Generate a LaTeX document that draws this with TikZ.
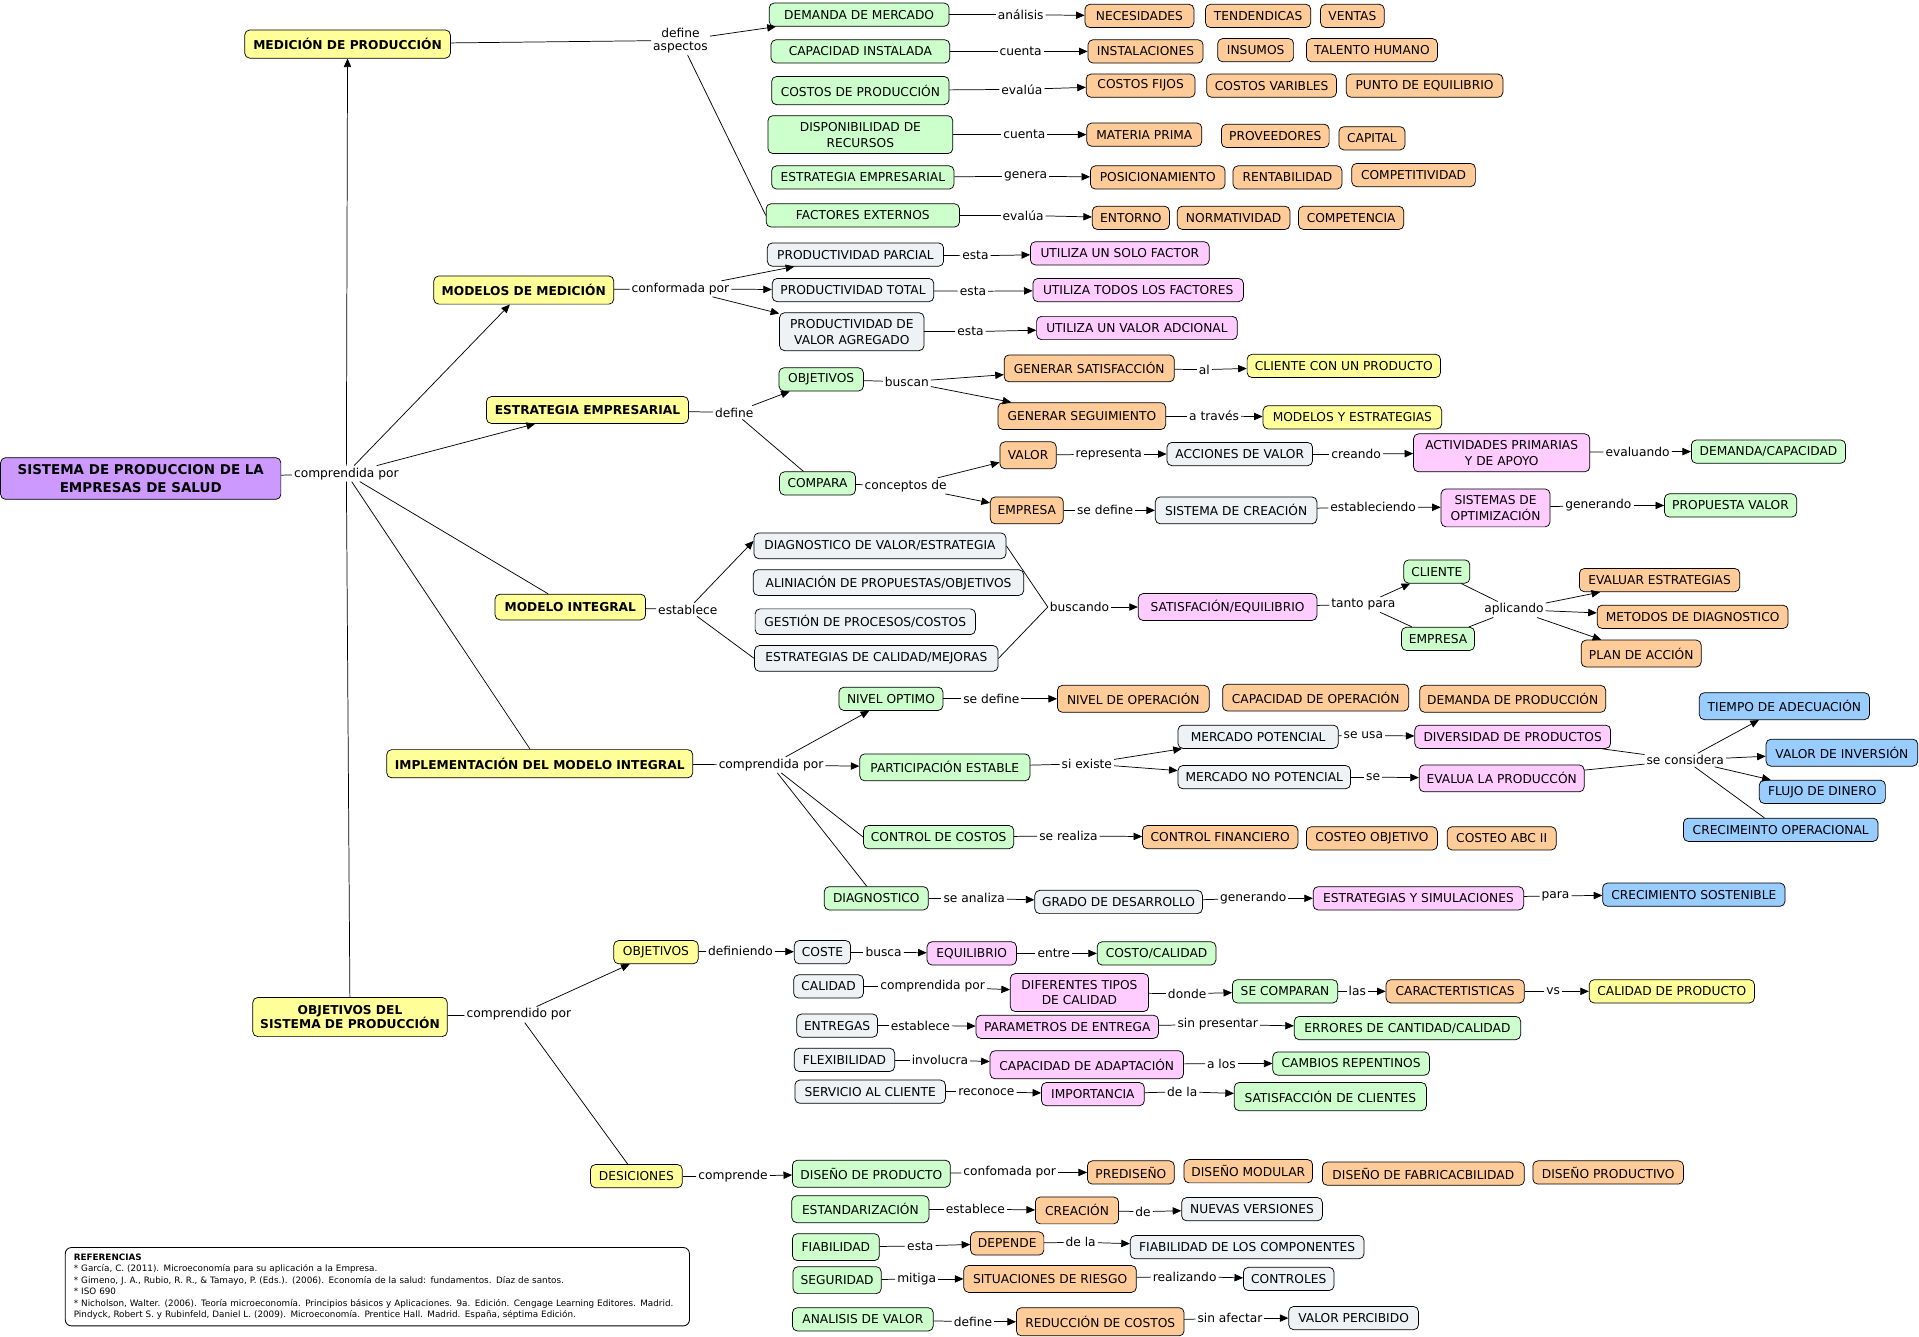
\documentclass[tikz,border=0pt]{standalone}
\usepackage{fontspec}
\setmainfont{DejaVu Sans}
\usepackage{tikz}
\usetikzlibrary{arrows.meta}
\definecolor{conceptyellow}{RGB}{255,255,153}
\definecolor{conceptgreen}{RGB}{204,255,204}
\definecolor{conceptorange}{RGB}{255,204,153}
\definecolor{conceptpink}{RGB}{255,204,255}
\definecolor{conceptgray}{RGB}{238,242,245}
\definecolor{conceptblue}{RGB}{153,204,255}
\definecolor{conceptpurple}{RGB}{204,153,255}
\tikzset{
  baseblock/.style={
    rectangle, rounded corners=4pt, draw=black, line width=0.6pt,
    inner xsep=6pt, inner ysep=3pt, minimum height=19pt,
    align=center, font=\fontsize{10}{13}\selectfont
  },
  yellowblock/.style={baseblock, fill=conceptyellow},
  greenblock/.style={baseblock, fill=conceptgreen},
  orangeblock/.style={baseblock, fill=conceptorange},
  pinkblock/.style={baseblock, fill=conceptpink},
  grayblock/.style={baseblock, fill=conceptgray},
  blueblock/.style={baseblock, fill=conceptblue},
  titleblock/.style={baseblock, fill=conceptyellow, minimum height=23pt, font=\fontsize{10}{12}\selectfont\bfseries},
  mainblock/.style={baseblock, fill=conceptpurple, minimum height=34pt, font=\fontsize{11}{14}\selectfont\bfseries},
  refblock/.style={
    rectangle, rounded corners=5pt, draw=black, line width=0.7pt,
    inner xsep=7pt, inner ysep=4pt, align=left, font=\fontsize{7.2}{9.4}\selectfont
  },
  linkword/.style={inner sep=1.5pt, align=center, font=\fontsize{10}{11}\selectfont},
  flowline/.style={draw=black, line width=0.6pt, -{Triangle[length=7pt, width=6pt]}},
  plainline/.style={draw=black, line width=0.6pt}
}
\begin{document}
\begin{tikzpicture}[x=1pt, y=-1pt]
  \path[use as bounding box, fill=white] (0,0) rectangle (1568,1092);

  \node[mainblock, minimum width=229pt] (sis) at (115,391) {SISTEMA DE PRODUCCION DE LA\\EMPRESAS DE SALUD};
  \node[linkword] (lcom1) at (283,387) {comprendida por};

  \node[titleblock, minimum width=168pt] (med) at (284,36) {MEDICIÓN DE PRODUCCIÓN};
  \node[linkword] (lasp) at (556,33) {define\\aspectos};
  \node[greenblock, minimum width=147pt] (dem) at (702,12) {DEMANDA DE MERCADO};
  \node[linkword] (lana) at (834,12) {análisis};
  \node[orangeblock, minimum width=89pt] (nec) at (931,13) {NECESIDADES};
  \node[orangeblock, minimum width=86pt] (ten) at (1028,13) {TENDENDICAS};
  \node[orangeblock, minimum width=52pt] (ven) at (1105,13) {VENTAS};
  \node[greenblock, minimum width=146pt] (cap) at (703,42) {CAPACIDAD INSTALADA};
  \node[linkword] (lcue1) at (834,42) {cuenta};
  \node[orangeblock, minimum width=94pt] (ins) at (936,42) {INSTALACIONES};
  \node[orangeblock, minimum width=62pt] (insu) at (1026,41) {INSUMOS};
  \node[orangeblock, minimum width=107pt] (tal) at (1121,41) {TALENTO HUMANO};
  \node[greenblock, minimum width=145pt, minimum height=23pt] (cos) at (703,74) {COSTOS DE PRODUCCIÓN};
  \node[linkword] (leva1) at (835,73) {evalúa};
  \node[orangeblock, minimum width=89pt] (cfi) at (932,70) {COSTOS FIJOS};
  \node[orangeblock, minimum width=106pt] (cva) at (1039,70) {COSTOS VARIBLES};
  \node[orangeblock, minimum width=128pt] (peq) at (1164,70) {PUNTO DE EQUILIBRIO};
  \node[greenblock, minimum width=151pt, minimum height=31pt] (dis) at (703,110) {DISPONIBILIDAD DE\\RECURSOS};
  \node[linkword] (lcue2) at (837,110) {cuenta};
  \node[orangeblock, minimum width=94pt] (mat) at (935,110) {MATERIA PRIMA};
  \node[orangeblock, minimum width=88pt] (pro) at (1042,111) {PROVEEDORES};
  \node[orangeblock, minimum width=54pt] (capi) at (1121,113) {CAPITAL};
  \node[greenblock, minimum width=149pt] (este) at (705,145) {ESTRATEGIA EMPRESARIAL};
  \node[linkword] (lgen1) at (838,144) {genera};
  \node[orangeblock, minimum width=110pt] (pos) at (946,145) {POSICIONAMIENTO};
  \node[orangeblock, minimum width=89pt] (ren) at (1052,145) {RENTABILIDAD};
  \node[orangeblock, minimum width=101pt] (com) at (1155,143) {COMPETITIVIDAD};
  \node[greenblock, minimum width=158pt] (fac) at (705,176) {FACTORES EXTERNOS};
  \node[linkword] (leva2) at (836,176) {evalúa};
  \node[orangeblock, minimum width=63pt] (ent) at (924,178) {ENTORNO};
  \node[orangeblock, minimum width=92pt] (nor) at (1008,178) {NORMATIVIDAD};
  \node[orangeblock, minimum width=86pt] (cpt) at (1104,178) {COMPETENCIA};

  \node[titleblock, minimum width=147pt] (mod) at (428,237) {MODELOS DE MEDICIÓN};
  \node[linkword] (lconf) at (556,236) {conformada por};
  \node[grayblock, minimum width=144pt] (ppar) at (699,208) {PRODUCTIVIDAD PARCIAL};
  \node[linkword] (les1) at (797,209) {esta};
  \node[pinkblock, minimum width=146pt] (usf) at (915,207) {UTILIZA UN SOLO FACTOR};
  \node[grayblock, minimum width=132pt] (ptot) at (697,237) {PRODUCTIVIDAD TOTAL};
  \node[linkword] (les2) at (795,238) {esta};
  \node[pinkblock, minimum width=172pt] (utf) at (930,237) {UTILIZA TODOS LOS FACTORES};
  \node[grayblock, minimum width=118pt, minimum height=31pt] (pva) at (696,271) {PRODUCTIVIDAD DE\\VALOR AGREGADO};
  \node[linkword] (les3) at (793,271) {esta};
  \node[pinkblock, minimum width=164pt] (uva) at (929,268) {UTILIZA UN VALOR ADCIONAL};

  \node[titleblock, minimum width=165pt, minimum height=22pt] (estr) at (480,335) {ESTRATEGIA EMPRESARIAL};
  \node[linkword] (ldef1) at (600,337) {define};
  \node[greenblock, minimum width=69pt] (obj1) at (671,310) {OBJETIVOS};
  \node[linkword] (lbus) at (741,312) {buscan};
  \node[orangeblock, minimum width=139pt, minimum height=22pt] (gsat) at (890,301) {GENERAR SATISFACCIÓN};
  \node[linkword] (lal) at (984,302) {al};
  \node[yellowblock, minimum width=158pt] (ccp) at (1098,299) {CLIENTE CON UN PRODUCTO};
  \node[orangeblock, minimum width=137pt, minimum height=22pt] (gseg) at (884,340) {GENERAR SEGUIMIENTO};
  \node[linkword] (latr) at (992,340) {a través};
  \node[yellowblock, minimum width=146pt] (mye) at (1105,341) {MODELOS Y ESTRATEGIAS};
  \node[greenblock, minimum width=62pt] (cmp) at (668,395) {COMPARA};
  \node[linkword] (lcon) at (740,397) {conceptos de};
  \node[orangeblock, minimum width=46pt, minimum height=22pt] (val) at (840,372) {VALOR};
  \node[linkword] (lrep) at (906,371) {representa};
  \node[grayblock, minimum width=119pt] (acv) at (1013,371) {ACCIONES DE VALOR};
  \node[linkword] (lcre) at (1108,371) {creando};
  \node[pinkblock, minimum width=144pt, minimum height=31pt] (act) at (1227,370) {ACTIVIDADES PRIMARIAS\\Y DE APOYO};
  \node[linkword] (lev) at (1338,369) {evaluando};
  \node[greenblock, minimum width=126pt] (dcap) at (1445,369) {DEMANDA/CAPACIDAD};
  \node[orangeblock, minimum width=58pt, minimum height=22pt] (emp1) at (839,417) {EMPRESA};
  \node[linkword] (lsed1) at (903,417) {se define};
  \node[grayblock, minimum width=132pt, minimum height=22pt] (sdc) at (1010,417) {SISTEMA DE CREACIÓN};
  \node[linkword] (lest1) at (1122,414) {estableciendo};
  \node[pinkblock, minimum width=89pt, minimum height=31pt] (sop) at (1222,415) {SISTEMAS DE\\OPTIMIZACIÓN};
  \node[linkword] (lgen2) at (1306,413) {generando};
  \node[greenblock, minimum width=108pt] (pval) at (1414,413) {PROPUESTA VALOR};

  \node[titleblock, minimum width=123pt, minimum height=21pt] (mint) at (466,496) {MODELO INTEGRAL};
  \node[linkword] (lesb) at (562,498) {establece};
  \node[grayblock, minimum width=206pt, minimum height=21pt] (dvaa) at (719,446) {DIAGNOSTICO DE VALOR/ESTRATEGIA};
  \node[grayblock, minimum width=221pt, minimum height=21pt] (ali) at (726,476) {ALINIACIÓN DE PROPUESTAS/OBJETIVOS};
  \node[grayblock, minimum width=180pt, minimum height=21pt] (gpc) at (707,508) {GESTIÓN DE PROCESOS/COSTOS};
  \node[grayblock, minimum width=199pt, minimum height=21pt] (ecm) at (716,538) {ESTRATEGIAS DE CALIDAD/MEJORAS};
  \node[linkword] (lbusc) at (882,496) {buscando};
  \node[pinkblock, minimum width=146pt, minimum height=22pt] (satq) at (1003,496) {SATISFACIÓN/EQUILIBRIO};
  \node[linkword] (ltan) at (1114,494) {tanto para};
  \node[greenblock, minimum width=54pt] (cli) at (1174,467) {CLIENTE};
  \node[greenblock, minimum width=58pt] (emp2) at (1175,522) {EMPRESA};
  \node[linkword] (lapl) at (1237,498) {aplicando};
  \node[orangeblock, minimum width=131pt] (eve) at (1356,474) {EVALUAR ESTRATEGIAS};
  \node[orangeblock, minimum width=156pt] (mdd) at (1383,504) {METODOS DE DIAGNOSTICO};
  \node[orangeblock, minimum width=98pt, minimum height=22pt] (pla) at (1341,534) {PLAN DE ACCIÓN};

  \node[titleblock, minimum width=250pt] (impl) at (441,624) {IMPLEMENTACIÓN DEL MODELO INTEGRAL};
  \node[linkword] (lcom2) at (630,625) {comprendida por};
  \node[greenblock, minimum width=85pt] (nop) at (728,571) {NIVEL OPTIMO};
  \node[linkword] (lsed2) at (810,571) {se define};
  \node[orangeblock, minimum width=124pt, minimum height=22pt] (nopr) at (926,571) {NIVEL DE OPERACIÓN};
  \node[orangeblock, minimum width=152pt, minimum height=22pt] (cop) at (1075,570) {CAPACIDAD DE OPERACIÓN};
  \node[orangeblock, minimum width=152pt, minimum height=22pt] (dpr) at (1236,571) {DEMANDA DE PRODUCCIÓN};
  \node[greenblock, minimum width=139pt, minimum height=22pt] (pes) at (772,627) {PARTICIPACIÓN ESTABLE};
  \node[linkword] (lsie) at (888,624) {si existe};
  \node[grayblock, minimum width=131pt] (mpo) at (1028,602) {MERCADO POTENCIAL};
  \node[linkword] (lusa) at (1114,601) {se usa};
  \node[pinkblock, minimum width=160pt] (dpd) at (1236,602) {DIVERSIDAD DE PRODUCTOS};
  \node[grayblock, minimum width=141pt] (mnp) at (1033,635) {MERCADO NO POTENCIAL};
  \node[linkword] (lse) at (1122,635) {se};
  \node[pinkblock, minimum width=134pt, minimum height=22pt] (evp) at (1227,636) {EVALUA LA PRODUCCÓN};
  \node[linkword] (lcsd) at (1377,621) {se considera};
  \node[blueblock, minimum width=139pt, minimum height=22pt] (tad) at (1458,577) {TIEMPO DE ADECUACIÓN};
  \node[blueblock, minimum width=124pt, minimum height=22pt] (vdi) at (1505,615) {VALOR DE INVERSIÓN};
  \node[blueblock, minimum width=103pt] (fdd) at (1489,647) {FLUJO DE DINERO};
  \node[blueblock, minimum width=159pt] (crop) at (1455,678) {CRECIMEINTO OPERACIONAL};
  \node[greenblock, minimum width=122pt] (cdc) at (767,684) {CONTROL DE COSTOS};
  \node[linkword] (lsre) at (873,683) {se realiza};
  \node[orangeblock, minimum width=127pt] (cfin) at (997,684) {CONTROL FINANCIERO};
  \node[orangeblock, minimum width=107pt] (cobj) at (1121,685) {COSTEO OBJETIVO};
  \node[orangeblock, minimum width=89pt] (cabc) at (1227,685) {COSTEO ABC II};
  \node[greenblock, minimum width=85pt] (diag) at (716,734) {DIAGNOSTICO};
  \node[linkword] (lsan) at (796,734) {se analiza};
  \node[grayblock, minimum width=136pt] (gdd) at (914,737) {GRADO DE DESARROLLO};
  \node[linkword] (lgen3) at (1024,734) {generando};
  \node[pinkblock, minimum width=172pt] (eys) at (1159,734) {ESTRATEGIAS Y SIMULACIONES};
  \node[linkword] (lpar) at (1271,732) {para};
  \node[blueblock, minimum width=149pt] (csos) at (1384,731) {CRECIMIENTO SOSTENIBLE};

  \node[titleblock, minimum width=158pt, minimum height=32pt] (objs) at (286,831) {OBJETIVOS DEL\\SISTEMA DE PRODUCCIÓN};
  \node[linkword] (lcom3) at (424,829) {comprendido por};
  \node[yellowblock, minimum width=69pt] (obj2) at (536,778) {OBJETIVOS};
  \node[linkword] (ldefi) at (605,777) {definiendo};
  \node[grayblock, minimum width=46pt] (cost) at (672,778) {COSTE};
  \node[linkword] (lbsc) at (722,778) {busca};
  \node[pinkblock, minimum width=73pt] (equ) at (794,779) {EQUILIBRIO};
  \node[linkword] (lent) at (861,779) {entre};
  \node[greenblock, minimum width=97pt] (coca) at (945,779) {COSTO/CALIDAD};
  \node[grayblock, minimum width=57pt] (cal) at (677,806) {CALIDAD};
  \node[linkword] (lcpor) at (762,806) {comprendida por};
  \node[pinkblock, minimum width=113pt, minimum height=31pt] (dtc) at (882,811) {DIFERENTES TIPOS\\DE CALIDAD};
  \node[linkword] (ldon) at (970,812) {donde};
  \node[greenblock, minimum width=86pt] (scp) at (1050,810) {SE COMPARAN};
  \node[linkword] (llas) at (1109,810) {las};
  \node[orangeblock, minimum width=113pt] (car) at (1189,810) {CARACTERTISTICAS};
  \node[linkword] (lvs) at (1269,810) {vs};
  \node[yellowblock, minimum width=135pt] (cdp) at (1366,810) {CALIDAD DE PRODUCTO};
  \node[grayblock, minimum width=66pt] (entg) at (684,838) {ENTREGAS};
  \node[linkword] (lestb) at (752,838) {establece};
  \node[pinkblock, minimum width=149pt] (pde) at (872,839) {PARAMETROS DE ENTREGA};
  \node[linkword] (lsinp) at (995,837) {sin presentar};
  \node[greenblock, minimum width=185pt] (ecc) at (1150,840) {ERRORES DE CANTIDAD/CALIDAD};
  \node[grayblock, minimum width=82pt] (fle) at (690,866) {FLEXIBILIDAD};
  \node[linkword] (linv) at (768,866) {involucra};
  \node[pinkblock, minimum width=158pt, minimum height=23pt] (cda) at (888,870) {CAPACIDAD DE ADAPTACIÓN};
  \node[linkword] (llos) at (998,869) {a los};
  \node[greenblock, minimum width=128pt] (cre) at (1104,869) {CAMBIOS REPENTINOS};
  \node[grayblock, minimum width=123pt] (sac) at (711,892) {SERVICIO AL CLIENTE};
  \node[linkword] (lrec) at (806,892) {reconoce};
  \node[pinkblock, minimum width=84pt] (imp) at (893,894) {IMPORTANCIA};
  \node[linkword] (ldla1) at (966,892) {de la};
  \node[greenblock, minimum width=157pt, minimum height=23pt] (sdcl) at (1087,896) {SATISFACCIÓN DE CLIENTES};

  \node[yellowblock, minimum width=75pt] (des) at (520,961) {DESICIONES};
  \node[linkword] (lcmp) at (599,961) {comprende};
  \node[greenblock, minimum width=129pt, minimum height=22pt] (ddp) at (712,959) {DISEÑO DE PRODUCTO};
  \node[linkword] (lcfp) at (825,958) {confomada por};
  \node[orangeblock, minimum width=71pt] (pred) at (924,958) {PREDISEÑO};
  \node[orangeblock, minimum width=105pt] (dmod) at (1020,957) {DISEÑO MODULAR};
  \node[orangeblock, minimum width=165pt] (dfab) at (1163,959) {DISEÑO DE FABRICACBILIDAD};
  \node[orangeblock, minimum width=123pt] (dprod) at (1314,958) {DISEÑO PRODUCTIVO};
  \node[greenblock, minimum width=112pt, minimum height=22pt] (std) at (703,988) {ESTANDARIZACIÓN};
  \node[linkword] (lestb2) at (797,988) {establece};
  \node[orangeblock, minimum width=68pt, minimum height=22pt] (crea) at (880,989) {CREACIÓN};
  \node[linkword] (lde) at (934,990) {de};
  \node[grayblock, minimum width=115pt] (nver) at (1023,988) {NUEVAS VERSIONES};
  \node[greenblock, minimum width=71pt, minimum height=22pt] (fia) at (683,1019) {FIABILIDAD};
  \node[linkword] (lest4) at (752,1018) {esta};
  \node[orangeblock, minimum width=59pt] (depe) at (823,1016) {DEPENDE};
  \node[linkword] (ldla2) at (883,1015) {de la};
  \node[grayblock, minimum width=191pt] (fdc) at (1019,1019) {FIABILIDAD DE LOS COMPONENTES};
  \node[greenblock, minimum width=72pt, minimum height=22pt] (seg) at (684,1046) {SEGURIDAD};
  \node[linkword] (lmit) at (749,1045) {mitiga};
  \node[orangeblock, minimum width=141pt, minimum height=22pt] (sdr) at (858,1045) {SITUACIONES DE RIESGO};
  \node[linkword] (lrea) at (968,1043) {realizando};
  \node[grayblock, minimum width=74pt] (ctr) at (1053,1045) {CONTROLES};
  \node[greenblock, minimum width=115pt] (adv) at (705,1078) {ANALISIS DE VALOR};
  \node[linkword] (ldef3) at (795,1080) {define};
  \node[orangeblock, minimum width=137pt, minimum height=23pt] (rdc) at (899,1080) {REDUCCIÓN DE COSTOS};
  \node[linkword] (lsaf) at (1005,1077) {sin afectar};
  \node[grayblock, minimum width=106pt] (vpe) at (1106,1077) {VALOR PERCIBIDO};

  \node[refblock, anchor=north west, minimum width=510pt, minimum height=64pt, text width=496pt] (refs) at (53,1019) {\textbf{REFERENCIAS}\\
{*} García, C. (2011). Microeconomía para su aplicación a la Empresa.\\
{*} Gimeno, J. A., Rubio, R. R., \& Tamayo, P. (Eds.). (2006). Economía de la salud: fundamentos. Díaz de santos.\\
{*} ISO 690\\
{*} Nicholson, Walter. (2006). Teoría microeconomía. Principios básicos y Aplicaciones. 9a. Edición. Cengage Learning Editores. Madrid.\\
Pindyck, Robert S. y Rubinfeld, Daniel L. (2009). Microeconomía. Prentice Hall. Madrid. España, séptima Edición.};

  \draw[plainline] (sis) -- (lcom1);
  \draw[flowline] (lcom1) -- (med);
  \draw[flowline] (lcom1) -- (mod);
  \draw[flowline] (lcom1) -- (estr);
  \draw[plainline] (lcom1) -- (mint);
  \draw[plainline] (lcom1) -- (impl);
  \draw[plainline] (lcom1) -- (objs);

  \draw[plainline] (med) -- (lasp);
  \draw[flowline] (lasp) -- (dem);
  \draw[plainline] (lasp) -- (fac.west);
  \draw[plainline] (dem) -- (lana);
  \draw[flowline] (lana) -- (nec);
  \draw[plainline] (cap) -- (lcue1);
  \draw[flowline] (lcue1) -- (ins);
  \draw[plainline] (cos) -- (leva1);
  \draw[flowline] (leva1) -- (cfi);
  \draw[plainline] (dis) -- (lcue2);
  \draw[flowline] (lcue2) -- (mat);
  \draw[plainline] (este) -- (lgen1);
  \draw[flowline] (lgen1) -- (pos);
  \draw[plainline] (fac) -- (leva2);
  \draw[flowline] (leva2) -- (ent);

  \draw[plainline] (mod) -- (lconf);
  \draw[flowline] (lconf) -- (ppar);
  \draw[flowline] (lconf) -- (ptot);
  \draw[flowline] (lconf) -- (pva);
  \draw[plainline] (ppar) -- (les1);
  \draw[flowline] (les1) -- (usf);
  \draw[plainline] (ptot) -- (les2);
  \draw[flowline] (les2) -- (utf);
  \draw[plainline] (pva) -- (les3);
  \draw[flowline] (les3) -- (uva);

  \draw[plainline] (estr) -- (ldef1);
  \draw[flowline] (ldef1) -- (obj1);
  \draw[plainline] (ldef1) -- (cmp);
  \draw[plainline] (obj1) -- (lbus);
  \draw[flowline] (lbus) -- (gsat);
  \draw[flowline] (lbus) -- (gseg);
  \draw[plainline] (gsat) -- (lal);
  \draw[flowline] (lal) -- (ccp);
  \draw[plainline] (gseg) -- (latr);
  \draw[flowline] (latr) -- (mye);
  \draw[plainline] (cmp) -- (lcon);
  \draw[flowline] (lcon) -- (val);
  \draw[flowline] (lcon) -- (emp1);
  \draw[plainline] (val) -- (lrep);
  \draw[flowline] (lrep) -- (acv);
  \draw[plainline] (acv) -- (lcre);
  \draw[flowline] (lcre) -- (act);
  \draw[plainline] (act) -- (lev);
  \draw[flowline] (lev) -- (dcap);
  \draw[plainline] (emp1) -- (lsed1);
  \draw[flowline] (lsed1) -- (sdc);
  \draw[plainline] (sdc) -- (lest1);
  \draw[flowline] (lest1) -- (sop);
  \draw[plainline] (sop) -- (lgen2);
  \draw[flowline] (lgen2) -- (pval);

  \draw[plainline] (mint) -- (lesb);
  \draw[flowline] (lesb) -- ([yshift=4pt]dvaa.west);
  \draw[plainline] (lesb) -- (ecm.west);
  \draw[plainline] (dvaa.east) -- (lbusc.west);
  \draw[plainline] (ecm.east) -- (lbusc.west);
  \draw[flowline] (lbusc) -- (satq);
  \draw[plainline] (satq) -- (ltan);
  \draw[flowline] (ltan) -- (cli);
  \draw[plainline] (ltan) -- (emp2);
  \draw[plainline] (cli) -- (lapl);
  \draw[plainline] (emp2) -- (lapl);
  \draw[flowline] (lapl) -- (eve);
  \draw[flowline] (lapl) -- (mdd);
  \draw[flowline] (lapl) -- (pla);

  \draw[plainline] (impl) -- (lcom2);
  \draw[flowline] (lcom2) -- (nop);
  \draw[flowline] (lcom2) -- (pes);
  \draw[plainline] (lcom2) -- (cdc.west);
  \draw[plainline] (lcom2) -- (diag);
  \draw[plainline] (nop) -- (lsed2);
  \draw[flowline] (lsed2) -- (nopr);
  \draw[plainline] (pes) -- (lsie);
  \draw[flowline] (lsie) -- (mpo);
  \draw[flowline] (lsie) -- (mnp);
  \draw[plainline] (mpo) -- (lusa);
  \draw[flowline] (lusa) -- (dpd);
  \draw[plainline] (mnp) -- (lse);
  \draw[flowline] (lse) -- (evp);
  \draw[plainline] (dpd) -- (lcsd);
  \draw[plainline] (evp) -- (lcsd);
  \draw[flowline] (lcsd) -- (tad);
  \draw[flowline] (lcsd) -- (vdi);
  \draw[flowline] (lcsd) -- (fdd);
  \draw[plainline] (lcsd) -- (crop);
  \draw[plainline] (cdc) -- (lsre);
  \draw[flowline] (lsre) -- (cfin);
  \draw[plainline] (diag) -- (lsan);
  \draw[flowline] (lsan) -- (gdd);
  \draw[plainline] (gdd) -- (lgen3);
  \draw[flowline] (lgen3) -- (eys);
  \draw[plainline] (eys) -- (lpar);
  \draw[flowline] (lpar) -- (csos);

  \draw[plainline] (objs) -- (lcom3);
  \draw[flowline] (lcom3) -- (obj2);
  \draw[plainline] (lcom3) -- (des);
  \draw[plainline] (obj2) -- (ldefi);
  \draw[flowline] (ldefi) -- (cost);
  \draw[plainline] (cost) -- (lbsc);
  \draw[flowline] (lbsc) -- (equ);
  \draw[plainline] (equ) -- (lent);
  \draw[flowline] (lent) -- (coca);
  \draw[plainline] (cal) -- (lcpor);
  \draw[flowline] (lcpor) -- (dtc);
  \draw[plainline] (dtc) -- (ldon);
  \draw[flowline] (ldon) -- (scp);
  \draw[plainline] (scp) -- (llas);
  \draw[flowline] (llas) -- (car);
  \draw[plainline] (car) -- (lvs);
  \draw[flowline] (lvs) -- (cdp);
  \draw[plainline] (entg) -- (lestb);
  \draw[flowline] (lestb) -- (pde);
  \draw[plainline] (pde) -- (lsinp);
  \draw[flowline] (lsinp) -- (ecc);
  \draw[plainline] (fle) -- (linv);
  \draw[flowline] (linv) -- (cda);
  \draw[plainline] (cda) -- (llos);
  \draw[flowline] (llos) -- (cre);
  \draw[plainline] (sac) -- (lrec);
  \draw[flowline] (lrec) -- (imp);
  \draw[plainline] (imp) -- (ldla1);
  \draw[flowline] (ldla1) -- (sdcl);

  \draw[plainline] (des) -- (lcmp);
  \draw[flowline] (lcmp) -- (ddp);
  \draw[plainline] (ddp) -- (lcfp);
  \draw[flowline] (lcfp) -- (pred);
  \draw[plainline] (std) -- (lestb2);
  \draw[flowline] (lestb2) -- (crea);
  \draw[plainline] (crea) -- (lde);
  \draw[flowline] (lde) -- (nver);
  \draw[plainline] (fia) -- (lest4);
  \draw[flowline] (lest4) -- (depe);
  \draw[plainline] (depe) -- (ldla2);
  \draw[flowline] (ldla2) -- (fdc);
  \draw[plainline] (seg) -- (lmit);
  \draw[flowline] (lmit) -- (sdr);
  \draw[plainline] (sdr) -- (lrea);
  \draw[flowline] (lrea) -- (ctr);
  \draw[plainline] (adv) -- (ldef3);
  \draw[flowline] (ldef3) -- (rdc);
  \draw[plainline] (rdc) -- (lsaf);
  \draw[flowline] (lsaf) -- (vpe);
\end{tikzpicture}
\end{document}
